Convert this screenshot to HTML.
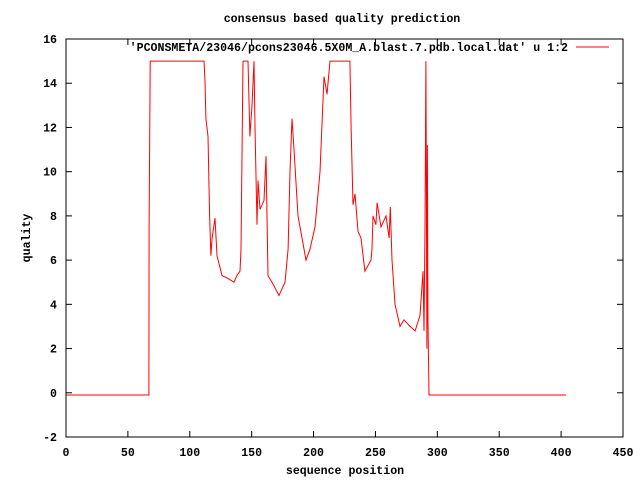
<!DOCTYPE html>
<html><head><meta charset="utf-8"><style>
body{margin:0;background:#fff}
svg text{font-family:"Liberation Mono",monospace;font-size:11.6px;font-weight:bold;fill:#000}
</style></head><body>
<svg id="c" width="640" height="480" xmlns="http://www.w3.org/2000/svg">
<rect x="0" y="0" width="640" height="480" fill="#fff"/>
<text x="342" y="22" text-anchor="middle">consensus based quality prediction</text>
<text x="345" y="474" text-anchor="middle">sequence position</text>
<text transform="translate(30,238) rotate(-90)" text-anchor="middle">quality</text>
<g id="axes"></g>
<text x="568" y="51" text-anchor="end">'PCONSMETA/23046/pcons23046.5X0M_A.blast.7.pdb.local.dat' u 1:2</text>
<line x1="576" y1="47" x2="609" y2="47" stroke="#f00" stroke-width="1"/>
<polyline id="series" fill="none" stroke="#f00" stroke-width="1"/>
</svg>
<script>
const xTicks=[0,50,100,150,200,250,300,350,400,450];
const yTicks=[-2,0,2,4,6,8,10,12,14,16];
const xs=[0,67,67.1,68,111.5,112.3,113,114.7,116,117.1,118,120.4,122,126,130,135.7,138,140.6,141.4,143,147,148.6,150.3,151.9,152.7,154.3,155.1,156.7,160,161.6,163.2,166.4,172.1,176.9,179.4,181,182.6,184.2,187.4,190.7,193.9,197.1,201.2,205.2,208.4,210.9,213.3,229.4,230.3,231.9,233.5,235.9,238.3,241.5,246.4,247.2,248,250.4,251.3,254.5,258.5,261,262,263.4,265.8,269.8,273.1,277.9,282,286,288.4,289.2,290,290.8,291.6,292,292.4,293.3,294,404];
const ys=[-0.1,-0.1,7.5,15,15,14.1,12.4,11.6,8,6.2,7,7.9,6.2,5.3,5.2,5,5.3,5.5,6.5,15,15,11.6,13,15,12,7.6,9.6,8.3,8.7,10.7,5.3,5,4.4,5,6.5,10,12.4,11,8,7,6,6.5,7.5,10,14.3,13.5,15,15,12,8.5,9,7.3,7,5.5,6,6.5,8,7.6,8.6,7.5,8,7,8.4,6,4,3,3.3,3,2.8,3.5,5.5,2.8,7.5,15,2,11.2,3.5,-0.1,-0.1,-0.1];
const L=66,R=623,T=39,B=437;
const sx=v=>L+(v-0)/450*(R-L);
const sy=v=>B-(v+2)/18*(B-T);
const NS="http://www.w3.org/2000/svg";
const ax=document.getElementById('axes');
function mk(tag,attrs){const e=document.createElementNS(NS,tag);for(const k in attrs)e.setAttribute(k,attrs[k]);ax.appendChild(e);return e;}
const fr=mk('rect',{x:L,y:T,width:R-L,height:B-T,fill:'none',stroke:'#000','stroke-width':1});


xTicks.forEach(v=>{const x=sx(v);
 mk('line',{x1:x,y1:B,x2:x,y2:B-6,stroke:'#000'});
 mk('line',{x1:x,y1:T,x2:x,y2:T+6,stroke:'#000'});
 const t=mk('text',{x:x,y:B+19,'text-anchor':'middle'});t.textContent=v;
 
 
});
yTicks.forEach(v=>{const y=sy(v);
 mk('line',{x1:L,y1:y,x2:L+6,y2:y,stroke:'#000'});
 mk('line',{x1:R,y1:y,x2:R-6,y2:y,stroke:'#000'});
 const t=mk('text',{x:57,y:y+4,'text-anchor':'end'});t.textContent=v;
 
 
});
document.getElementById('series').setAttribute('points',xs.map((x,i)=>sx(x).toFixed(1)+','+sy(ys[i]).toFixed(1)).join(' '));
</script>
</body></html>
